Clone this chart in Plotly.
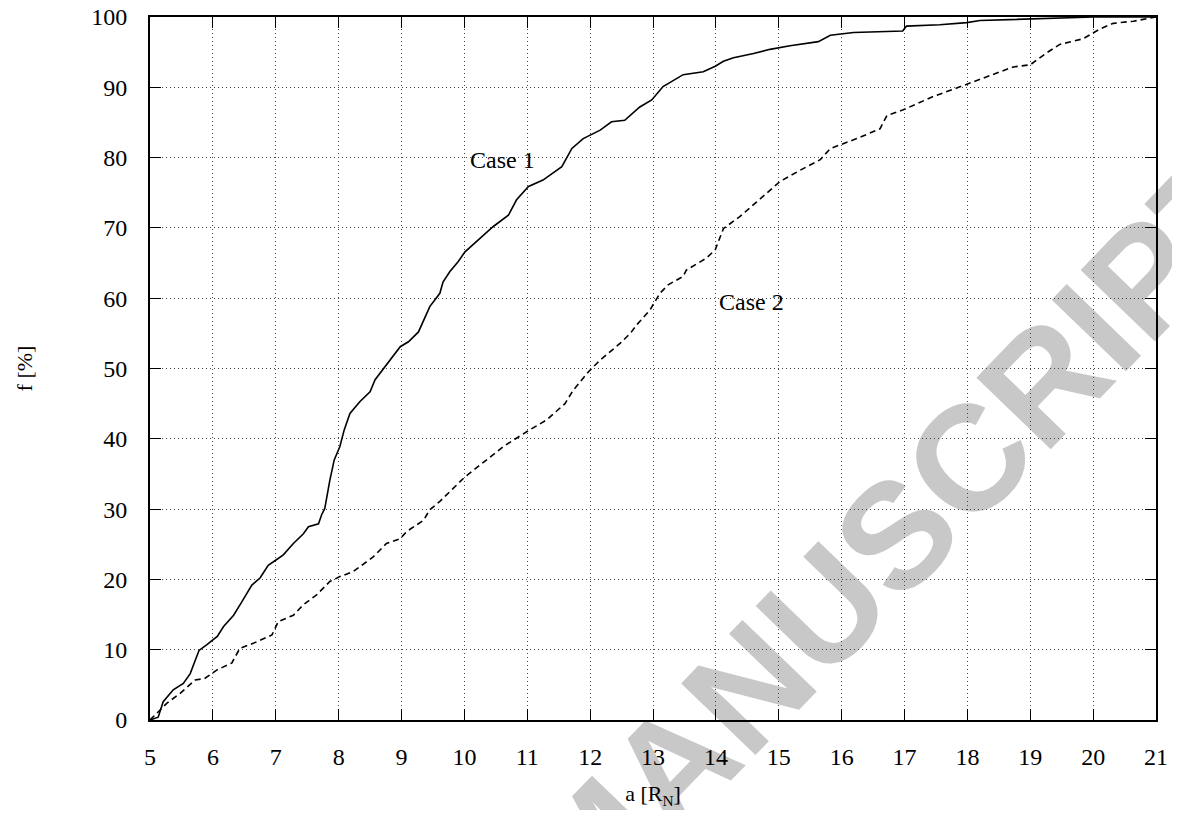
import plotly.graph_objects as go

# Case 1 (solid) - cumulative fraction vs semi-major axis
case1_a = [5.0, 5.13, 5.21, 5.37, 5.53, 5.64, 5.72, 5.78, 5.90, 6.07, 6.17, 6.33, 6.46, 6.62,
           6.75, 6.88, 7.01, 7.12, 7.28, 7.44, 7.52, 7.68, 7.73, 7.78, 7.86, 7.93, 8.02, 8.09,
           8.18, 8.34, 8.50, 8.58, 8.98, 9.11, 9.27, 9.35, 9.45, 9.61, 9.66, 9.77, 9.90, 10.01,
           10.25, 10.46, 10.70, 10.83, 11.02, 11.25, 11.55, 11.71, 11.89, 12.16, 12.34, 12.55,
           12.79, 12.98, 13.16, 13.48, 13.80, 13.99, 14.12, 14.28, 14.60, 14.86, 15.18, 15.63,
           15.82, 16.19, 16.97, 17.03, 17.56, 17.99, 18.20, 19.00, 20.00, 21.0]
case1_f = [0.0, 0.4, 2.6, 4.3, 5.2, 6.6, 8.5, 9.9, 10.7, 11.9, 13.3, 14.9, 16.8, 19.2,
           20.2, 22.0, 22.8, 23.5, 25.1, 26.5, 27.5, 27.9, 29.2, 30.1, 34.1, 37.0, 38.9, 41.3,
           43.6, 45.3, 46.7, 48.4, 53.1, 53.8, 55.2, 56.9, 58.8, 60.7, 62.3, 63.8, 65.2, 66.6,
           68.5, 70.2, 71.8, 74.0, 75.9, 76.8, 78.7, 81.3, 82.7, 83.9, 85.1, 85.3,
           87.2, 88.2, 90.1, 91.8, 92.2, 93.0, 93.7, 94.2, 94.8, 95.4, 95.9, 96.5,
           97.4, 97.8, 98.0, 98.7, 98.9, 99.2, 99.5, 99.7, 100.0, 100.0]

# Case 2 (dashed)
case2_a = [5.0, 5.11, 5.27, 5.48, 5.72, 5.87, 6.06, 6.30, 6.43, 6.64, 6.94, 7.04, 7.28, 7.44,
           7.65, 7.86, 8.02, 8.23, 8.55, 8.76, 8.98, 9.08, 9.35, 9.45, 9.61, 10.0, 10.38,
           10.62, 10.99, 11.31, 11.60, 11.73, 11.97, 12.16, 12.48, 12.64, 12.74, 12.95, 13.11,
           13.24, 13.48, 13.53, 13.85, 13.99, 14.12, 14.38, 14.65, 14.86, 15.02, 15.34, 15.66,
           15.82, 16.24, 16.61, 16.72, 16.98, 17.46, 17.83, 18.15, 18.73, 19.00, 19.26, 19.47,
           19.84, 20.11, 20.32, 20.64, 21.0]
case2_f = [0.0, 0.95, 2.4, 3.8, 5.7, 5.9, 7.1, 8.1, 10.2, 10.9, 12.1, 14.0, 14.9, 16.4,
           17.8, 19.7, 20.4, 21.1, 23.2, 25.1, 25.8, 26.8, 28.4, 29.9, 31.1, 34.5, 37.2,
           38.9, 41.0, 42.7, 45.0, 46.9, 49.5, 51.2, 53.6, 55.0, 56.2, 58.3, 60.7,
           61.9, 63.1, 64.0, 65.7, 66.9, 69.9, 71.6, 73.7, 75.4, 76.6, 78.2, 79.7,
           81.3, 82.7, 84.1, 86.0, 86.8, 88.7, 89.9, 91.0, 92.9, 93.2, 94.9, 96.1,
           96.9, 98.3, 99.1, 99.4, 100.0]

x_ticks = list(range(5, 22))
y_ticks = list(range(0, 101, 10))

serif = "Liberation Serif"

fig = go.Figure()

fig.add_trace(go.Scatter(x=case1_a, y=case1_f, mode="lines", name="Case 1",
                         line=dict(color="black", width=1.6)))
fig.add_trace(go.Scatter(x=case2_a, y=case2_f, mode="lines", name="Case 2",
                         line=dict(color="black", width=1.6, dash="6px,4px")))

# watermark, kept under the grid and text via a shape label on the lower layer
fig.add_shape(type="rect", xref="paper", yref="paper",
              x0=0.731, x1=0.733, y0=0.277, y1=0.279,
              line=dict(width=0), fillcolor="rgba(0,0,0,0)", layer="below",
              label=dict(text="<b>MANUSCRIPT</b>", textangle=-46,
                         textposition="middle center",
                         font=dict(family="Liberation Sans", size=150,
                                   color="rgb(200,200,200)")))

fig.add_annotation(text="Case 1", x=10.61, y=79.7, showarrow=False,
                   font=dict(family=serif, size=24, color="black"))
fig.add_annotation(text="Case 2", x=14.57, y=59.5, showarrow=False,
                   font=dict(family=serif, size=24, color="black"))

axis_common = dict(
    showline=True, linecolor="black", linewidth=2, mirror="allticks",
    ticks="inside", ticklen=11, tickwidth=1.2, tickcolor="black",
    showgrid=True, gridcolor="rgb(70,70,70)", gridwidth=1, griddash="1px,3px",
    zeroline=False, automargin=False, ticklabeloverflow="allow",
    tickfont=dict(family=serif, size=24, color="black"),
)

fig.update_xaxes(range=[5, 21], tickvals=x_ticks, ticklabelstandoff=14,
                 title=dict(text="a [R<sub>N</sub>]", standoff=17,
                            font=dict(family=serif, size=22, color="black")),
                 **axis_common)
fig.update_yaxes(range=[0, 100], tickvals=y_ticks, ticklabelstandoff=16,
                 title=dict(text="f [%]", standoff=53,
                            font=dict(family=serif, size=22, color="black")),
                 **axis_common)

# page adds an 8px body margin, so the figure is a bit smaller than the window
fig.update_layout(width=1164, height=802, showlegend=False,
                  plot_bgcolor="rgba(0,0,0,0)", paper_bgcolor="white",
                  margin=dict(l=142, r=16, t=9, b=90))

fig.write_html("out.html")
